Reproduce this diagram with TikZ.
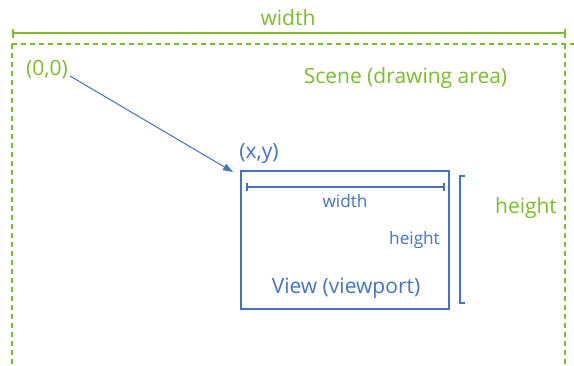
\documentclass[tikz,border=0pt]{standalone}
\usepackage{fontspec}
\setmainfont{Open Sans}
\usetikzlibrary{arrows.meta}
\definecolor{scenegreen}{RGB}{122,190,40}
\definecolor{viewblue}{RGB}{68,114,196}
\tikzset{
  greentext/.style={text=scenegreen, inner sep=0pt, font=\fontsize{21}{24}\selectfont},
  bluetext/.style={text=viewblue, inner sep=0pt, font=\fontsize{21}{24}\selectfont},
  smallblue/.style={text=viewblue, inner sep=0pt, font=\fontsize{17.2}{20}\selectfont},
  sceneline/.style={draw=scenegreen, line width=2pt, dash pattern=on 5pt off 4pt},
  greendim/.style={draw=scenegreen, line width=1.5pt},
  bluedim/.style={draw=viewblue, line width=1.3pt},
  viewbox/.style={draw=viewblue, line width=2pt, inner sep=0pt, minimum width=208pt, minimum height=138pt},
}
\begin{document}
\begin{tikzpicture}[x=1pt,y=-1pt]
\useasboundingbox (0,0) rectangle (574,365);
% scene boundary
\coordinate (sTL) at (12,44);
\coordinate (sTR) at (574,44);
\coordinate (sRT) at (565,44);
\coordinate (sLB) at (12,366);
\coordinate (sRB) at (565,366);
\draw[sceneline] (sTL) -- (sTR);
\draw[sceneline] (sTL) -- (sLB);
\draw[sceneline] (sRT) -- (sRB);
% outer width dimension
\coordinate (wL) at (13,33);
\coordinate (wR) at (565,33);
\draw[greendim] (wL) -- (wR);
\draw[greendim] ([yshift=-4.5pt]wL) -- ([yshift=4.5pt]wL);
\draw[greendim] ([yshift=-4.5pt]wR) -- ([yshift=4.5pt]wR);
\node[greentext] (wlabel) at (288,18) {width};
\node[greentext] (scene) at (405.5,78) {Scene (drawing area)};
\node[greentext] (origin) at (47,70) {(0,0)};
\node[greentext] (hlabel) at (526,208) {height};
% view
\node[viewbox] (view) at (345,240) {};
\node[bluetext] (xy) at (259,154) {(x,y)};
\coordinate (ostart) at (70,76);
\coordinate (oend) at ([xshift=-7pt,yshift=-2pt]view.north west);
\draw[draw=viewblue, line width=1pt, -{Triangle[length=10pt,width=7pt]}]
  (ostart) -- (oend);
% inner width dimension
\coordinate (iwL) at (247,187);
\coordinate (iwR) at (444,187);
\draw[bluedim] (iwL) -- (iwR);
\draw[bluedim] ([yshift=-4pt]iwL) -- ([yshift=4pt]iwL);
\draw[bluedim] ([yshift=-4pt]iwR) -- ([yshift=4pt]iwR);
\node[smallblue] (iwlabel) at (345,201.5) {width};
\node[smallblue] (ihlabel) at (414.5,240) {height};
\node[bluetext] (viewlabel) at (346,288) {View (viewport)};
% outer height dimension
\coordinate (hT) at (460,176);
\coordinate (hB) at (460,303);
\draw[bluedim] (hT) -- (hB);
\draw[bluedim] ([xshift=-1pt]hT) -- ([xshift=5pt]hT);
\draw[bluedim] ([xshift=-1pt]hB) -- ([xshift=5pt]hB);
\end{tikzpicture}
\end{document}
